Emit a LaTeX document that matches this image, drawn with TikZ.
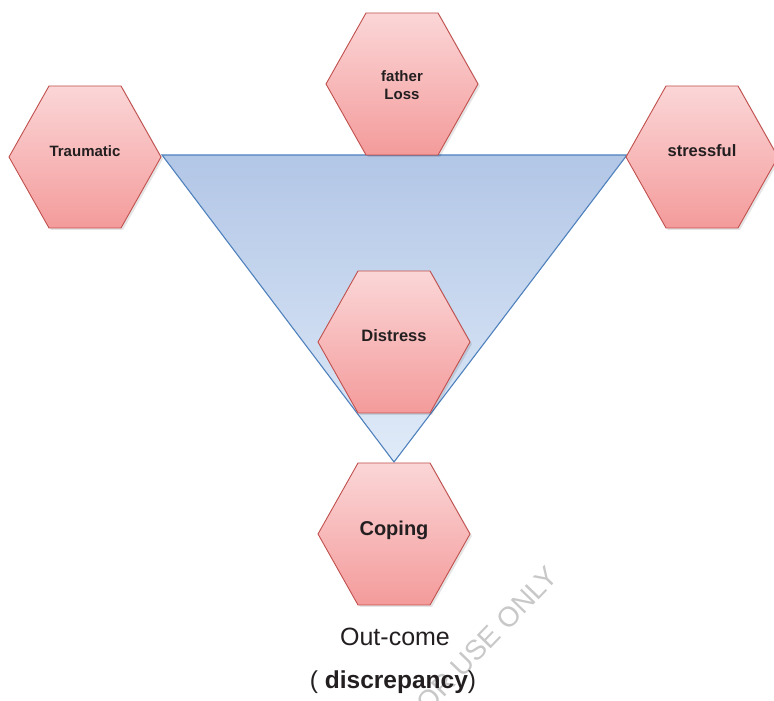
\documentclass[tikz,border=0pt]{standalone}
\usepackage{fontspec}
\setmainfont{Liberation Sans}
\definecolor{hexline}{RGB}{192,80,77}
\definecolor{hextop}{RGB}{251,214,215}
\definecolor{hexbot}{RGB}{244,155,155}
\definecolor{triline}{RGB}{79,129,189}
\definecolor{tritop}{RGB}{178,198,230}
\definecolor{tribot}{RGB}{224,235,248}
\definecolor{wmcol}{RGB}{200,200,200}
\definecolor{textdark}{RGB}{35,31,32}
\tikzset{
  hexshape/.style={draw=hexline, line width=0.9pt, top color=hextop, bottom color=hexbot, line join=miter},
  hexshadow/.style={fill=black, opacity=0.10},
  hexlabel/.style={font=\bfseries\fontsize{15}{18}\selectfont, text=textdark, align=center, inner sep=0pt},
  tri/.style={draw=triline, line width=1.1pt, top color=tritop, bottom color=tribot, line join=miter},
  plainlabel/.style={text=textdark, inner sep=0pt},
  wmark/.style={text=wmcol, font=\fontsize{28}{30}\selectfont, inner sep=0pt}
}
\newcommand\hexat[2]{%
  \path[hexshadow] (#1-74,#2-2) -- (#1-34,#2+69) -- (#1+38,#2+69) -- (#1+78,#2-2) -- (#1+38,#2-73) -- (#1-34,#2-73) -- cycle;
  \path[hexshape] (#1-76,#2) -- (#1-36,#2+71) -- (#1+36,#2+71) -- (#1+76,#2) -- (#1+36,#2-71) -- (#1-36,#2-71) -- cycle;}
\begin{document}
\begin{tikzpicture}[x=1pt,y=1pt]
  \useasboundingbox (0,0) rectangle (774,701);
  % watermark
  \node[wmark, rotate=46, anchor=base east] (wm) at (560,123) {FOR USE ONLY};
  % triangle
  \coordinate (tl) at (162,546);
  \coordinate (tr) at (627,546);
  \coordinate (tb) at (394,239);
  \path[tri] (tl) -- (tr) -- (tb) -- cycle;
  % hexagons
  \hexat{85}{544}
  \hexat{402}{617}
  \hexat{702}{544}
  \hexat{394}{359}
  \hexat{394}{167}
  % labels
  \node[hexlabel] (traumatic) at (85,550) {Traumatic};
  \node[hexlabel] (father) at (402,616) {father\\Loss};
  \node[hexlabel, font=\bfseries\fontsize{16.5}{19}\selectfont] (stressful) at (702,550) {stressful};
  \node[hexlabel, font=\bfseries\fontsize{16.5}{19}\selectfont] (distress) at (394,365) {Distress};
  \node[hexlabel, font=\bfseries\fontsize{20}{24}\selectfont] (coping) at (394,171) {Coping};
  \node[plainlabel, font=\fontsize{25}{30}\selectfont] (outcome) at (395,64) {Out-come};
  \node[plainlabel, font=\fontsize{24.5}{30}\selectfont] (discr) at (393,19) {( \textbf{discrepancy})};
\end{tikzpicture}
\end{document}
